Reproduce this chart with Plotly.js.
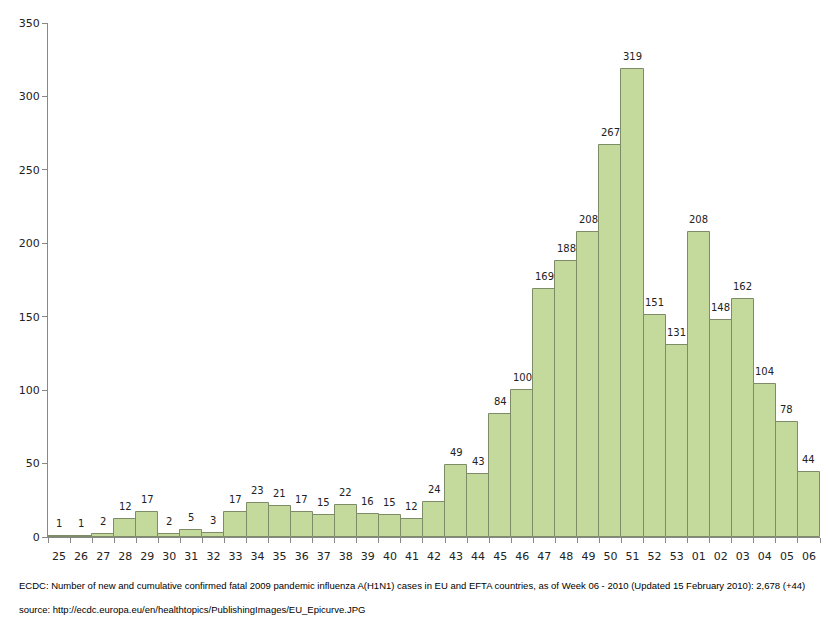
<!DOCTYPE html>
<html>
<head>
<meta charset="utf-8">
<script src="https://cdn.plot.ly/plotly-3.0.1.min.js"></script>
<style>
  body { margin: 0; background: #fff; }
  #graph { width: 829px; height: 625px; }
</style>
</head>
<body>
<div id="graph"></div>
<script>
// weeks 2009 (25-53) then 2010 (01-06)
const weeks = ['25','26','27','28','29','30','31','32','33','34','35','36','37','38','39','40','41',
               '42','43','44','45','46','47','48','49','50','51','52','53','01','02','03','04','05','06'];
const deaths = [1, 1, 2, 12, 17, 2, 5, 3, 17, 23, 21, 17, 15, 22, 16, 15, 12,
                24, 49, 43, 84, 100, 169, 188, 208, 267, 319, 151, 131, 208, 148, 162, 104, 78, 44];
const yTicks = [0, 50, 100, 150, 200, 250, 300, 350];

const trace = {
    x: weeks,
    y: deaths,
    type: 'bar',
    marker: {
        color: '#c4da9c',
        line: {color: '#7d8c66', width: 1}
    },
    hoverinfo: 'x+y'
};

// value labels sitting a bit above each bar (x given as category index)
const valueLabels = weeks.map((w, i) => ({
    x: i, y: deaths[i], text: String(deaths[i]),
    xref: 'x', yref: 'y', yanchor: 'bottom', yshift: 5,
    showarrow: false,
    font: {family: 'DejaVu Sans', size: 10, color: '#222'}
}));

const capFont = {family: 'Liberation Sans', size: 9.5, color: '#000'};

const layout = {
    width: 829,
    height: 625,
    margin: {l: 48, r: 9, t: 23, b: 88},
    bargap: 0,
    showlegend: false,
    paper_bgcolor: '#fff',
    plot_bgcolor: '#fff',
    font: {family: 'DejaVu Sans', size: 11, color: '#222'},
    xaxis: {
        type: 'category',
        categoryorder: 'array',
        categoryarray: weeks,
        range: [-0.5, weeks.length - 0.5],
        showgrid: false,
        showline: true,
        linecolor: '#888',
        linewidth: 1,
        ticks: 'outside',
        tickson: 'boundaries',
        ticklen: 5,
        tickcolor: '#888',
        tickangle: 0,
        ticklabelstandoff: 9,
        tickfont: {size: 11, color: '#222'}
    },
    yaxis: {
        range: [0, 350],
        tickvals: yTicks,
        showgrid: false,
        zeroline: false,
        showline: true,
        linecolor: '#888',
        linewidth: 1,
        ticks: 'outside',
        ticklen: 5,
        tickcolor: '#888',
        tickfont: {size: 11, color: '#222'}
    },
    annotations: valueLabels.concat([
        {
            text: 'ECDC: Number of new and cumulative confirmed fatal 2009 pandemic influenza A(H1N1) cases in EU and EFTA countries, as of Week 06 - 2010 (Updated 15 February 2010): 2,678 (+44)',
            xref: 'paper', yref: 'paper', x: -0.04, y: -0.08,
            xanchor: 'left', yanchor: 'top', showarrow: false,
            font: capFont
        },
        {
            text: 'source: http://ecdc.europa.eu/en/healthtopics/PublishingImages/EU_Epicurve.JPG',
            xref: 'paper', yref: 'paper', x: -0.04, y: -0.126,
            xanchor: 'left', yanchor: 'top', showarrow: false,
            font: capFont
        }
    ])
};

Plotly.newPlot('graph', [trace], layout, {displayModeBar: false});
</script>
</body>
</html>
